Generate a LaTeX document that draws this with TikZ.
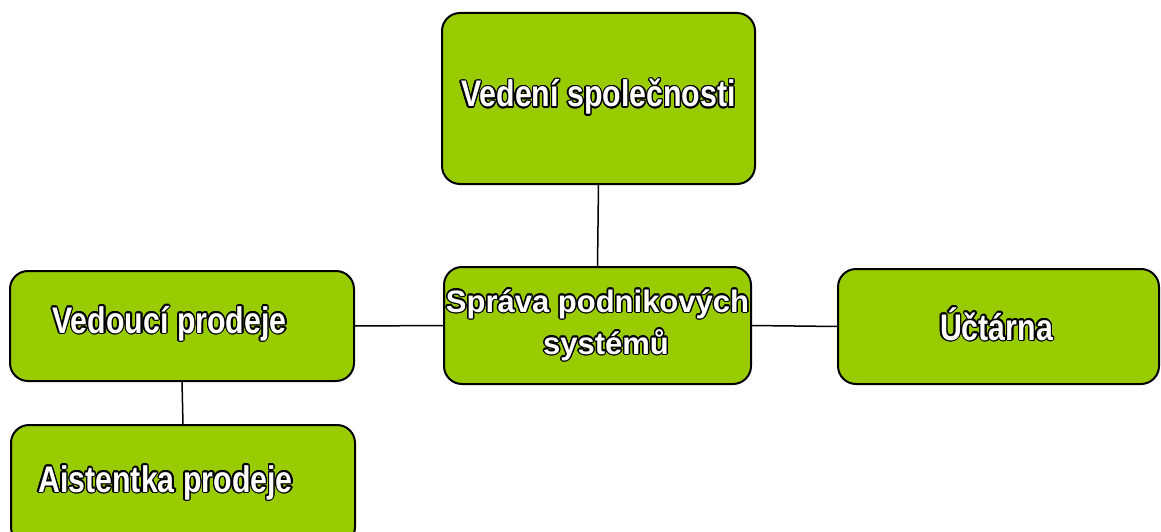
\documentclass[tikz,border=0pt]{standalone}
\usepackage{fontspec}
\usepackage{contour}
\newfontfamily\narrowsans{Liberation Sans}[FakeStretch=0.82]
\newfontfamily\widesans{Liberation Sans}
\definecolor{leaf}{RGB}{153,204,0}
\contourlength{1.4pt}
\newcommand{\outlined}[1]{\contour{black}{\textcolor{white}{#1}}}
\tikzset{
  orgbox/.style={draw=black, line width=2pt, fill=leaf, rounded corners=18pt,
    inner sep=0pt, outer sep=0pt},
  narrowlabel/.style={anchor=base, inner sep=0pt,
    font=\narrowsans\bfseries\fontsize{37}{40}\selectfont},
  widelabel/.style={anchor=base, inner sep=0pt,
    font=\widesans\bfseries\fontsize{31}{36}\selectfont},
  link/.style={draw=black, line width=1.5pt}
}
\begin{document}
\begin{tikzpicture}[x=1pt, y=-1pt]
\useasboundingbox (0,0) rectangle (1161,532);

% boxes
\node[orgbox, minimum width=313pt, minimum height=171pt] (vedeni) at (598.5,98.5) {};
\node[orgbox, minimum width=307pt, minimum height=117pt] (sprava) at (597.5,325.5) {};
\node[orgbox, minimum width=344pt, minimum height=110pt] (vedouci) at (182,326) {};
\node[orgbox, minimum width=344pt, minimum height=120pt] (asistent) at (183,485) {};
\node[orgbox, minimum width=321pt, minimum height=115pt] (uctarna) at (998.5,326.5) {};

% connectors
\draw[link] (vedeni.south) -- (sprava.north);
\draw[link] (vedouci.east) -- (sprava.west);
\draw[link] (sprava.east) -- (uctarna.west);
\draw[link] (vedouci.south) -- (asistent.north);

% labels
\node[narrowlabel] (tvedeni) at (598.5,107) {\outlined{Vedení společnosti}};
\node[widelabel] (tsprava1) at (597.5,312) {\outlined{Správa podnikových}};
\node[widelabel] (tsprava2) at (606,354) {\outlined{systémů}};
\node[narrowlabel] (tvedouci) at (169.5,333) {\outlined{Vedoucí prodeje}};
\node[narrowlabel] (tasistent) at (165.5,492) {\outlined{Aistentka prodeje}};
\node[narrowlabel] (tuctarna) at (996.5,340) {\outlined{Účtárna}};
\end{tikzpicture}
\end{document}
